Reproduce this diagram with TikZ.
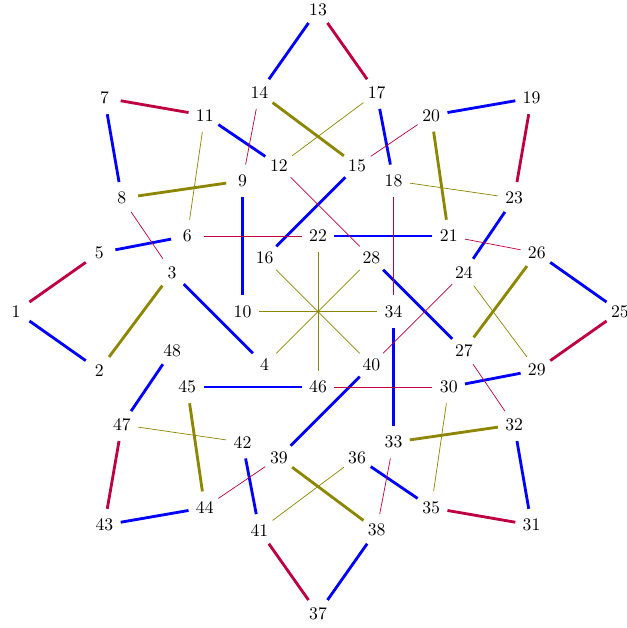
\documentclass[tikz,border=0pt]{standalone}
\usetikzlibrary{calc}
\begin{document}
\begin{tikzpicture}
\tikzset{
  lbl/.style={circle,inner sep=0pt,minimum size=0.64cm},
  rthick/.style={draw=purple,line width=1.6pt},
  bthick/.style={draw=blue,line width=1.6pt},
  othick/.style={draw=olive,line width=1.6pt},
  rthin/.style={draw=purple,line width=0.4pt},
  othin/.style={draw=olive,line width=0.4pt}
}
\useasboundingbox (-6.318,-6.288) rectangle (6.139,6.189);
\foreach \k in {0,...,7}{
  \pgfmathsetmacro\ph{180-45*\k}
  \pgfmathtruncatemacro\na{6*\k+1}
  \pgfmathtruncatemacro\nb{6*\k+2}
  \pgfmathtruncatemacro\nc{6*\k+3}
  \pgfmathtruncatemacro\nd{6*\k+4}
  \pgfmathtruncatemacro\ne{6*\k+5}
  \pgfmathtruncatemacro\nf{6*\k+6}
  \node[lbl] (n\na) at (\ph:6cm) {\na};
  \node[lbl] (n\nb) at (\ph+15:4.5cm) {\nb};
  \node[lbl] (n\nc) at (\ph-15:3cm) {\nc};
  \node[lbl] (n\nd) at (\ph+45:1.5cm) {\nd};
  \node[lbl] (n\ne) at (\ph-15:4.5cm) {\ne};
  \node[lbl] (n\nf) at (\ph-30:3cm) {\nf};
}
% thick edges within each group
\foreach \k in {0,...,7}{
  \pgfmathtruncatemacro\na{6*\k+1}
  \pgfmathtruncatemacro\nb{6*\k+2}
  \pgfmathtruncatemacro\nc{6*\k+3}
  \pgfmathtruncatemacro\nd{6*\k+4}
  \pgfmathtruncatemacro\ne{6*\k+5}
  \pgfmathtruncatemacro\nf{6*\k+6}
  \path[rthick] (n\na) -- (n\ne);
  \path[bthick] (n\na) -- (n\nb);
  \path[othick] (n\nb) -- (n\nc);
  \path[bthick] (n\nc) -- (n\nd);
  \path[bthick] (n\ne) -- (n\nf);
}
% thin red edges
\foreach \a/\b in {3/8,9/14,15/20,21/26,27/32,33/38,39/44,6/22,12/28,18/34,24/40,30/46}{
  \path[rthin] (n\a) -- (n\b);
}
% thin olive edges
\foreach \a/\b in {6/11,12/17,18/23,24/29,30/35,36/41,42/47,4/28,10/34,16/40,22/46}{
  \path[othin] (n\a) -- (n\b);
}
\end{tikzpicture}
\end{document}
